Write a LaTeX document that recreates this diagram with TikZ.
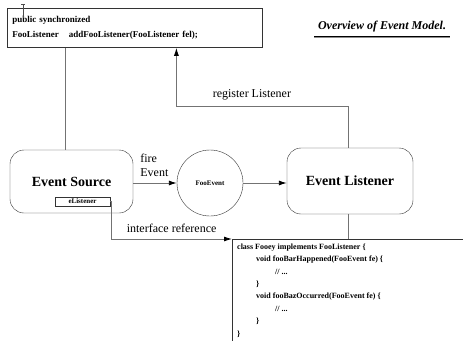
\documentclass[tikz,border=0pt]{standalone}
\usepackage{fontspec}
\setmainfont{Liberation Serif}
\usetikzlibrary{arrows.meta}
\tikzset{
  eventbox/.style={draw=black!80,rounded corners=14pt,font=\fontsize{14}{16}\selectfont\bfseries},
  link/.style={draw=black!55,line width=0.9pt},
  tip/.style={-{Latex[length=8pt,width=5pt,color=black]}},
  lbl/.style={font=\fontsize{12}{14}\selectfont,inner sep=1pt}
}
\begin{document}
\begin{tikzpicture}[x=1pt,y=-1pt]
\clip (0,0) rectangle (463,340);

% the declaration box at the top
\node[draw=black!80,line width=0.8pt,anchor=north west,minimum width=255pt,minimum height=39pt,
  text width=245pt,align=left,inner sep=5pt,font=\fontsize{9}{15}\selectfont\bfseries]
  (decl) at (7,8) {public synchronized\\FooListener\hspace{10pt}addFooListener(FooListener fel);};
\draw[black!70,line width=0.8pt] (21,4) -- (25,4) (23,4) -- (23,18);
% the title
\node[font=\fontsize{12}{14}\selectfont\bfseries\itshape] (title) at (382,27) {Overview of Event Model.};
\draw[black!45,line width=2pt] ([yshift=-1pt]title.south west) -- ([yshift=-1pt]title.south east);
\draw[black,line width=0.6pt] (title.south west) -- (title.south east);

% the two boxes and the event
\node[eventbox,minimum width=123pt,minimum height=63pt] (src) at (71.5,181.5) {Event Source};
\node[draw=black!80,minimum width=55pt,minimum height=9pt,inner sep=0pt,
  font=\fontsize{7}{8}\selectfont\bfseries] (elis) at (82.5,201.5) {eListener};
\node[draw=black!80,circle,minimum size=66pt,font=\fontsize{7}{8}\selectfont\bfseries] (evt) at (210,183) {FooEvent};
\node[eventbox,minimum width=126pt,minimum height=66pt] (lis) at (350,181) {Event Listener};

% the class box, cut off at the right and at the bottom
\node[draw=black!80,line width=0.8pt,anchor=north west,minimum width=260pt,minimum height=120pt] (impl) at (232,239) {};
\node[anchor=north west,align=left,inner sep=0pt,font=\fontsize{8}{12.4}\selectfont\bfseries]
  (code) at ([xshift=5pt,yshift=-4.5pt]impl.north west) {class Fooey implements FooListener \{\\
  \hspace*{19pt}void fooBarHappened(FooEvent fe) \{\\
  \hspace*{38pt}// ...\\
  \hspace*{19pt}\}\\
  \hspace*{19pt}void fooBazOccurred(FooEvent fe) \{\\
  \hspace*{38pt}// ...\\
  \hspace*{19pt}\}\\
  \}};

% the connectors
\draw[link] ([xshift=-6.5pt]src.north) -- ([xshift=-6.5pt]src.north |- decl.south);
\draw[link,tip] (src.east |- evt) -- (evt.west);
\node[lbl,anchor=south west,align=left] (firelbl) at ([xshift=6pt,yshift=5pt]src.east |- evt) {fire\\Event};
\draw[link,tip] (evt.east) -- (lis.west |- evt.east);
\draw[link,tip] ([xshift=-2pt]lis.north) -- ++(0,-41) -| ([xshift=41.5pt]decl.south)
  node[lbl,pos=0.28,above=5pt] (reglbl) {register Listener};
\draw[link,tip] (elis.east) -- ++(1,0) |- (impl.north west)
  node[lbl,pos=0.75,above=5pt] (ifclbl) {interface reference};
\draw[link] ([xshift=-2pt]lis.south) -- ([xshift=-2pt]lis.south |- impl.north);
\end{tikzpicture}
\end{document}
